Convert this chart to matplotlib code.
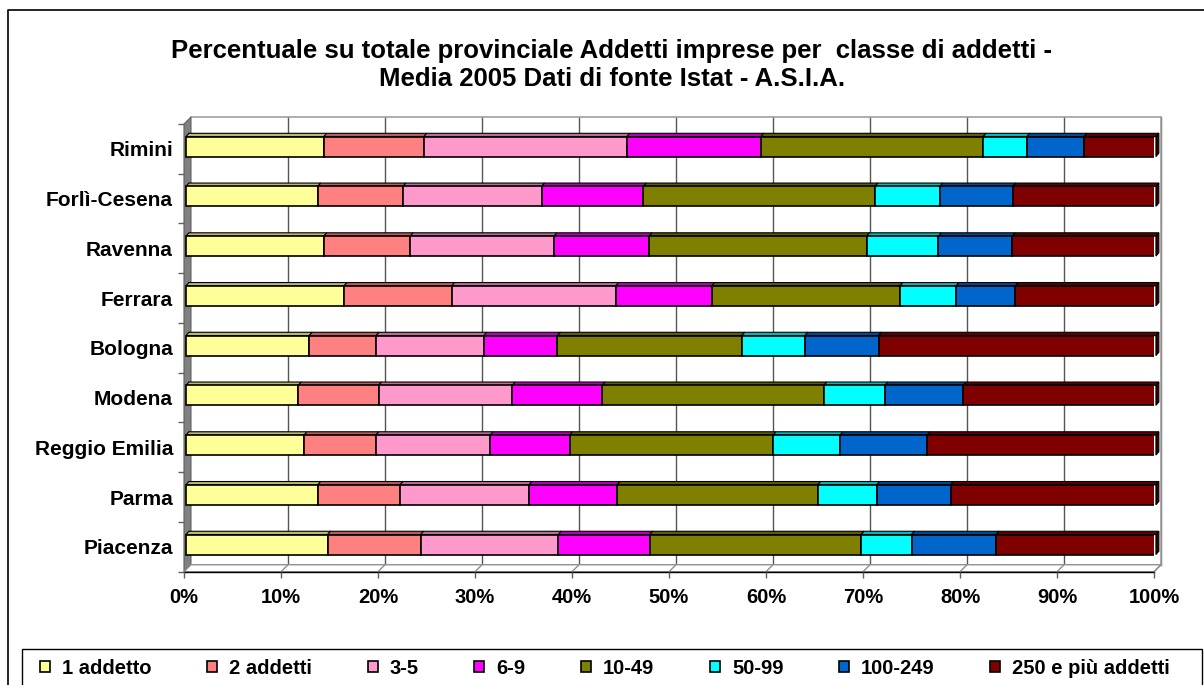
import numpy as np
import matplotlib.pyplot as plt
from matplotlib.patches import Polygon, Patch, Rectangle
from matplotlib.lines import Line2D
from matplotlib.colors import to_rgb

plt.rcParams['font.family'] = ['Liberation Sans', 'DejaVu Sans']
plt.rcParams['font.weight'] = 'bold'

province = ["Piacenza", "Parma", "Reggio Emilia", "Modena", "Bologna",
            "Ferrara", "Ravenna", "Forlì-Cesena", "Rimini"]
classi = ["1 addetto", "2 addetti", "3-5", "6-9", "10-49", "50-99",
          "100-249", "250 e più addetti"]
colori = ["#FFFF99", "#FF8080", "#FF99CC", "#FF00FF", "#808000",
          "#00FFFF", "#0066CC", "#800000"]

add_1 = [14.6, 13.6, 12.2, 11.6, 12.7, 16.3, 14.2, 13.6, 14.2]
add_2 = [9.6, 8.5, 7.4, 8.3, 6.9, 11.1, 8.9, 8.8, 10.3]
add_3_5 = [14.2, 13.3, 11.8, 13.8, 11.1, 16.9, 14.8, 14.3, 20.9]
add_6_9 = [9.4, 9.1, 8.2, 9.3, 7.6, 9.9, 9.8, 10.5, 13.8]
add_10_49 = [21.8, 20.7, 21.0, 22.9, 19.0, 19.4, 22.4, 23.9, 22.9]
add_50_99 = [5.2, 6.1, 6.9, 6.3, 6.5, 5.8, 7.4, 6.7, 4.5]
add_100_249 = [8.7, 7.6, 9.0, 8.1, 7.6, 6.1, 7.6, 7.5, 5.9]
add_250 = [16.5, 21.2, 23.6, 19.9, 28.6, 14.5, 14.8, 14.8, 7.4]

serie = np.array([add_1, add_2, add_3_5, add_6_9, add_10_49,
                  add_50_99, add_100_249, add_250])
perc = serie / serie.sum(axis=0) * 100

fig = plt.figure(figsize=(12.04, 6.85), dpi=100)
ax = fig.add_axes([184/1204, 1-571.7/685, 970/1204, 447.7/685])
ax.set_xlim(0, 100)
ax.set_ylim(-0.5, 8.5)

# 3D depth of the chart walls and of the bars (data units)
DX, DY = 0.72, 0.14
bdx, bdy, boff_x, boff_y = 0.3, 0.068, 0.2, 0.045
h = 0.4

def darker(c, f=0.72):
    return tuple(v*f for v in to_rgb(c))

# left wall
ax.add_patch(Polygon([(0, -0.5), (DX, -0.5+DY), (DX, 8.5+DY), (0, 8.5)],
                     closed=True, facecolor="#808080", edgecolor="#606060",
                     lw=0.8, clip_on=False, zorder=1))
# floor
ax.add_patch(Polygon([(0, -0.5), (100, -0.5), (100+DX, -0.5+DY), (DX, -0.5+DY)],
                     closed=True, facecolor="white", edgecolor="#909090",
                     lw=1.0, clip_on=False, zorder=1))
# back wall outline and gridlines
ticks = np.arange(0, 101, 10)
for t in ticks[1:]:
    ax.plot([t+DX, t+DX], [-0.5+DY, 8.5+DY], color="#555555", lw=1.0,
            clip_on=False, zorder=0.5)
    ax.plot([t, t+DX], [-0.5, -0.5+DY], color="#909090", lw=1.0,
            clip_on=False, zorder=1.2)
ax.plot([DX, 100+DX, 100+DX], [8.5+DY, 8.5+DY, -0.5+DY], color="#a0a0a0",
        lw=1.2, clip_on=False, zorder=0.6)
ax.plot([0, 100], [-0.5, -0.5], color="black", lw=1.0, clip_on=False, zorder=1.5)

y = np.arange(len(province)) + boff_y
left = np.zeros(len(province)) + boff_x
for i in range(len(classi)):
    ax.barh(y, perc[i], left=left, height=h, color=colori[i],
            edgecolor="black", lw=1.2, zorder=3)
    for j in range(len(province)):
        l, w, top = left[j], perc[i][j], y[j] + h/2
        ax.add_patch(Polygon([(l, top), (l+w, top), (l+w+bdx, top+bdy), (l+bdx, top+bdy)],
                             closed=True, facecolor=darker(colori[i]),
                             edgecolor="black", lw=0.8, zorder=2.5, clip_on=False))
        if i == len(classi) - 1:
            r, bot = l + w, y[j] - h/2
            ax.add_patch(Polygon([(r, bot), (r+bdx, bot+bdy), (r+bdx, top+bdy), (r, top)],
                                 closed=True, facecolor=darker(colori[i], 0.4),
                                 edgecolor="black", lw=0.8, zorder=2.5, clip_on=False))
    left = left + perc[i]

for s in ax.spines.values():
    s.set_visible(False)

ax.set_xticks(ticks)
ax.set_xticklabels([f"{t}%" for t in ticks], fontsize=14.5, fontweight="bold")
ax.tick_params(axis="x", length=4, width=1, color="#606060", pad=8)
ax.set_yticks(np.arange(len(province)))
ax.set_yticklabels(province, fontsize=15, fontweight="bold")
ax.set_yticks(np.arange(-0.5, 9, 1), minor=True)
ax.tick_params(axis="y", which="major", length=0, pad=8)
ax.tick_params(axis="y", which="minor", length=4.5, width=1, color="#606060")

fig.text(0.508, 1-65/685,
         "Percentuale su totale provinciale Addetti imprese per  classe di addetti -\n"
         "Media 2005 Dati di fonte Istat - A.S.I.A.",
         ha="center", va="center", fontsize=18.5, fontweight="bold", linespacing=1.25)

# legend box (cut by the lower edge, as in the original)
fig.add_artist(Rectangle((22/1204, -0.05), 1180/1204, 1-649/685+0.05,
                         transform=fig.transFigure, facecolor="none",
                         edgecolor="black", lw=1.0))
handles = [Patch(facecolor=c, edgecolor="black", lw=1.2) for c in colori]
leg = fig.legend(handles, classi, loc="center left", ncol=8, mode="expand",
                 bbox_to_anchor=(40/1204, 1-668/685, 1130/1204, 0),
                 prop={"size": 14.5, "weight": "bold"}, frameon=False,
                 borderpad=0, handlelength=0.5, handleheight=0.5,
                 handletextpad=0.6, borderaxespad=0)

# outer chart border
fig.add_artist(Line2D([7.5/1204, 7.5/1204, 1], [0, 1-10/685, 1-10/685],
                      transform=fig.transFigure, color="black", lw=1.2))

fig.savefig("out.png", dpi=100)
